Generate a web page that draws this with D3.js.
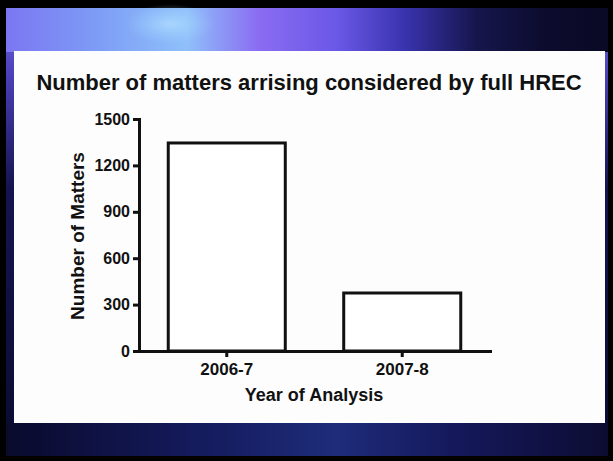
<!DOCTYPE html>
<html>
<head>
<meta charset="utf-8">
<script src="https://cdn.jsdelivr.net/npm/d3@7"></script>
<style>
  html, body { margin: 0; padding: 0; background: #000; }
  svg { display: block; }
  text { font-family: "Liberation Sans", Arial, sans-serif; font-weight: bold; fill: #111; }
</style>
</head>
<body>
<svg id="chart" width="613" height="461"></svg>
<script>
// ---- data ----
const categories = ["2006-7", "2007-8"];
const values = [1345, 375];
const yTicks = [0, 300, 600, 900, 1200, 1500];
const title = "Number of matters arrising considered by full HREC";
const xTitle = "Year of Analysis";
const yTitle = "Number of Matters";

const svg = d3.select("#chart");
const defs = svg.append("defs");

// ---- slide background ----
svg.append("rect").attr("width", 613).attr("height", 461).attr("fill", "#000");

const gBase = defs.append("linearGradient").attr("id", "gBase")
  .attr("x1", 0).attr("y1", 0).attr("x2", 0).attr("y2", 1);
[[0, "#6f68e6"], [0.15, "#4a40b8"], [0.4, "#141550"], [1, "#0a0b30"]]
  .forEach(([o, c]) => gBase.append("stop").attr("offset", o).attr("stop-color", c));
svg.append("rect").attr("x", 6).attr("y", 8).attr("width", 602).attr("height", 448).attr("fill", "url(#gBase)");

const gTop = defs.append("linearGradient").attr("id", "gTop")
  .attr("x1", 0).attr("y1", 0).attr("x2", 1).attr("y2", 0);
[[0, "#7c76f2"], [0.15, "#7d9cf6"], [0.3, "#8fc0fa"], [0.42, "#8a6cf2"], [0.55, "#6a58e6"],
 [0.66, "#3a34b0"], [0.78, "#16164e"], [0.9, "#0c0b2c"], [1, "#0a0a26"]]
  .forEach(([o, c]) => gTop.append("stop").attr("offset", o).attr("stop-color", c));
svg.append("rect").attr("x", 6).attr("y", 8).attr("width", 602).attr("height", 44).attr("fill", "url(#gTop)");

const gBlob = defs.append("radialGradient").attr("id", "gBlob");
gBlob.append("stop").attr("offset", 0).attr("stop-color", "#b8e4ff").attr("stop-opacity", 0.65);
gBlob.append("stop").attr("offset", 1).attr("stop-color", "#9fd8ff").attr("stop-opacity", 0);
svg.append("ellipse").attr("cx", 170).attr("cy", 24).attr("rx", 45).attr("ry", 20).attr("fill", "url(#gBlob)");

const gBot = defs.append("linearGradient").attr("id", "gBot")
  .attr("x1", 0).attr("y1", 0).attr("x2", 1).attr("y2", 0);
[[0, "#0a0a2c"], [0.3, "#141a5a"], [0.55, "#1e2c7a"], [0.75, "#15185a"], [1, "#0c0c32"]]
  .forEach(([o, c]) => gBot.append("stop").attr("offset", o).attr("stop-color", c));
svg.append("rect").attr("x", 6).attr("y", 423).attr("width", 602).attr("height", 33).attr("fill", "url(#gBot)");

// white panel
svg.append("rect").attr("x", 14).attr("y", 51).attr("width", 591).attr("height", 372).attr("fill", "#fdfdfd");

// ---- chart ----
const x = d3.scaleBand().domain(categories).range([139, 490]).paddingInner(0.333).paddingOuter(0.1667);
const y = d3.scaleLinear().domain([0, 1500]).range([351, 119]);

svg.append("text").attr("x", 309).attr("y", 90).attr("text-anchor", "middle")
  .style("font-size", "22px").text(title);

// bars
svg.append("g").selectAll("rect").data(values).join("rect")
  .attr("x", (d, i) => x(categories[i]))
  .attr("y", d => y(d))
  .attr("width", x.bandwidth())
  .attr("height", d => y(0) - y(d))
  .attr("fill", "#fff").attr("stroke", "#111").attr("stroke-width", 3);

// y axis
const yAxis = svg.append("g").attr("transform", "translate(139,0)")
  .call(d3.axisLeft(y).tickValues(yTicks).tickSize(6).tickSizeOuter(0).tickPadding(3).tickFormat(d3.format("d")));
yAxis.selectAll("text").style("font-size", "16px");

// x axis
const xAxis = svg.append("g").attr("transform", "translate(0,351)")
  .call(d3.axisBottom(x).tickSize(6).tickSizeOuter(0).tickPadding(6));
xAxis.selectAll("text").style("font-size", "17px");

[yAxis, xAxis].forEach(a => {
  a.select(".domain").attr("stroke", "#111").attr("stroke-width", 3).attr("stroke-linecap", "square");
  a.selectAll(".tick line").attr("stroke", "#111").attr("stroke-width", 3);
  a.selectAll("text").attr("fill", "#111");
});

svg.append("text").attr("x", 314).attr("y", 401).attr("text-anchor", "middle")
  .style("font-size", "18px").text(xTitle);

svg.append("text").attr("transform", "translate(84,236) rotate(-90)").attr("text-anchor", "middle")
  .style("font-size", "19px").text(yTitle);
</script>
</body>
</html>
